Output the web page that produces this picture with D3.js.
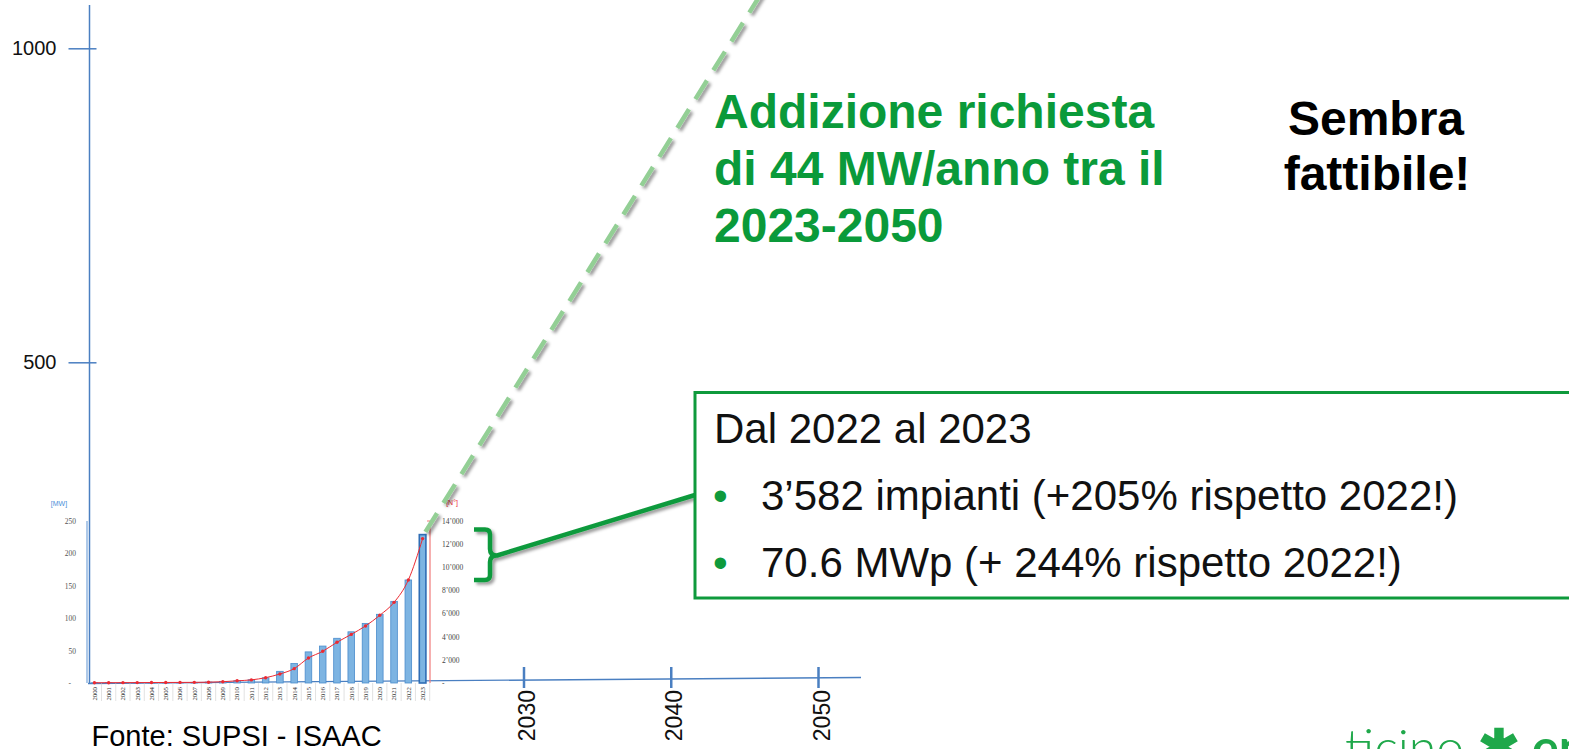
<!DOCTYPE html>
<html>
<head>
<meta charset="utf-8">
<script src="https://cdn.jsdelivr.net/npm/d3@7"></script>
<style>
  html, body { margin: 0; padding: 0; background: #fff; }
  svg { display: block; font-family: "Liberation Sans", Arial, sans-serif; }
</style>
</head>
<body>
<svg width="1569" height="749"></svg>
<script>
// inner chart (SUPSI - ISAAC): installed PV power and number of plants per year
const years = [2000, 2001, 2002, 2003, 2004, 2005, 2006, 2007, 2008, 2009, 2010, 2011,
               2012, 2013, 2014, 2015, 2016, 2017, 2018, 2019, 2020, 2021, 2022, 2023];
const capacityMW = [0.3, 0.4, 0.5, 0.5, 0.6, 0.7, 0.8, 1.0, 1.5, 2.5, 3.5, 5,
                    8, 18, 30, 48, 57, 69, 79, 92, 106, 126, 159, 229];
const installations = [20, 25, 30, 35, 40, 45, 50, 55, 70, 110, 190, 270,
                       460, 780, 1240, 2160, 2740, 3520, 4200, 4930, 5850, 6970, 8900, 12480];
const mwTicks = [0, 50, 100, 150, 200, 250];
const nTicks = [0, 2000, 4000, 6000, 8000, 10000, 12000, 14000];

// outer chart: projection to 2050
const outerYTicks = [500, 1000];
const outerXTicks = [2030, 2040, 2050];
const projYears = [2023, 2050];
const projMW = [230, 1245];

const svg = d3.select("svg"),
      width = +svg.attr("width"),
      height = +svg.attr("height");

const axisBlue = "#4a7fc1",
      green = "#0e9a3c",
      red = "#ec2a32";

const xOuter = d3.scaleLinear().domain([2030, 2050]).range([523.5, 818]);
const yOuter = d3.scaleLinear().domain([0, 1000]).range([676.3, 48.3]);

const xInner = d3.scalePoint().domain(years).range([94.4, 422.6]);
const yMW = d3.scaleLinear().domain([0, 250]).range([683, 521]);
const yN = d3.scaleLinear().domain([0, 14000]).range([683, 521]);

// shadow used by the dashed projection and the callout
const defs = svg.append("defs");
defs.append("filter")
    .attr("id", "shadow")
    .attr("x", "-20%").attr("y", "-20%").attr("width", "140%").attr("height", "140%")
  .append("feDropShadow")
    .attr("dx", 2.5).attr("dy", 2.5)
    .attr("stdDeviation", 1.8)
    .attr("flood-color", "#000")
    .attr("flood-opacity", 0.4);

//----- outer axes -----
svg.append("line")
    .attr("x1", 89.5).attr("x2", 89.5)
    .attr("y1", 5).attr("y2", 684)
    .attr("stroke", axisBlue).attr("stroke-width", 1.5);

const gy = svg.append("g")
    .attr("transform", "translate(89.5,0)")
    .call(d3.axisLeft(yOuter).tickValues(outerYTicks).tickSize(0).tickPadding(33)
        .tickFormat(d3.format("d")));
gy.select(".domain").remove();
gy.selectAll(".tick line")
    .attr("x1", -21).attr("x2", 7)
    .attr("stroke", axisBlue).attr("stroke-width", 1.5);
gy.selectAll(".tick text")
    .attr("font-size", 20).attr("fill", "#111")
    .attr("font-family", "Liberation Sans, Arial, sans-serif");

svg.append("line")
    .attr("x1", 88).attr("y1", 683.5)
    .attr("x2", 861).attr("y2", 677.5)
    .attr("stroke", axisBlue).attr("stroke-width", 1.3);

const gx = svg.append("g")
    .attr("transform", "translate(0,678)")
    .call(d3.axisBottom(xOuter).tickValues(outerXTicks).tickSize(0).tickFormat(d3.format("d")));
gx.select(".domain").remove();
gx.selectAll(".tick line")
    .attr("y1", -11).attr("y2", 10)
    .attr("stroke", axisBlue).attr("stroke-width", 2.5);
gx.selectAll(".tick text")
    .attr("transform", "rotate(-90)")
    .attr("text-anchor", "end")
    .attr("x", -12).attr("y", 11).attr("dy", 0)
    .attr("font-size", 23).attr("fill", "#111")
    .attr("font-family", "Liberation Sans, Arial, sans-serif");

//----- inner chart -----
const inner = svg.append("g").attr("class", "inner");

inner.append("line")
    .attr("x1", 87).attr("x2", 87)
    .attr("y1", yMW(250)).attr("y2", yMW(0))
    .attr("stroke", "#5d93d3").attr("stroke-width", 1);

const gmw = inner.append("g")
    .attr("transform", "translate(76,0)")
    .call(d3.axisLeft(yMW).tickValues(mwTicks).tickSize(0).tickPadding(0)
        .tickFormat(d => d === 0 ? "-" : d));
gmw.select(".domain").remove();
gmw.selectAll(".tick text")
    .attr("font-size", 7.5).attr("fill", "#555")
    .attr("font-family", "Liberation Serif, serif");
gmw.selectAll(".tick").filter(d => d === 0).select("text").attr("dx", -5);

inner.append("text")
    .attr("x", 59).attr("y", 506)
    .attr("text-anchor", "middle")
    .attr("font-size", 7).attr("fill", "#4a90d9")
    .text("[MW]");

// year separators and labels
inner.selectAll(".sep")
    .data(years)
    .enter().append("line")
    .attr("class", "sep")
    .attr("x1", d => xInner(d) + 7.1).attr("x2", d => xInner(d) + 7.1)
    .attr("y1", 683).attr("y2", 701)
    .attr("stroke", "#cfcfcf").attr("stroke-width", 0.6);

inner.selectAll(".yr")
    .data(years)
    .enter().append("text")
    .attr("class", "yr")
    .attr("transform", d => `translate(${xInner(d) + 2.4},687) rotate(-90)`)
    .attr("text-anchor", "end")
    .attr("font-size", 6.8).attr("fill", "#333")
    .attr("font-family", "Liberation Serif, serif")
    .text(d => d);

// bars
inner.selectAll(".bar")
    .data(years)
    .enter().append("rect")
    .attr("class", "bar")
    .attr("x", d => xInner(d) - 3.3)
    .attr("width", 6.6)
    .attr("y", (d, i) => yMW(capacityMW[i]))
    .attr("height", (d, i) => yMW(0) - yMW(capacityMW[i]))
    .attr("fill", "#7db4e2")
    .attr("stroke", (d, i) => i === years.length - 1 ? "#2f6db5" : "#4a8ccc")
    .attr("stroke-width", (d, i) => i === years.length - 1 ? 1.6 : 0.8);

// right axis (number of plants)
inner.append("line")
    .attr("x1", 430).attr("x2", 430)
    .attr("y1", yN(14000)).attr("y2", yN(0))
    .attr("stroke", "#f07a7a").attr("stroke-width", 1.2);
inner.append("line")
    .attr("x1", 427).attr("x2", 430)
    .attr("y1", yN(14000)).attr("y2", yN(14000))
    .attr("stroke", "#f07a7a").attr("stroke-width", 1);

const gn = inner.append("g")
    .attr("transform", "translate(442,0)")
    .call(d3.axisRight(yN).tickValues(nTicks).tickSize(0).tickPadding(0)
        .tickFormat(d => d === 0 ? "-" : d3.format(",")(d).replace(",", "’")));
gn.select(".domain").remove();
gn.selectAll(".tick text")
    .attr("font-size", 7.5).attr("fill", "#444")
    .attr("font-family", "Liberation Serif, serif");

inner.append("text")
    .attr("x", 452).attr("y", 504.5)
    .attr("text-anchor", "middle")
    .attr("font-size", 7).attr("fill", red)
    .text("[N°]");

// plants line
const nLine = d3.line()
    .x((d, i) => xInner(years[i]))
    .y(d => yN(d))
    .curve(d3.curveMonotoneX);

inner.append("path")
    .datum(installations)
    .attr("d", nLine)
    .attr("fill", "none")
    .attr("stroke", red).attr("stroke-width", 1);

inner.selectAll(".dot")
    .data(installations)
    .enter().append("circle")
    .attr("class", "dot")
    .attr("cx", (d, i) => xInner(years[i]))
    .attr("cy", d => yN(d))
    .attr("r", 1.7)
    .attr("fill", red);

//----- projection to 2050 -----
svg.append("path")
    .datum(projYears.map((y, i) => [y, projMW[i]]))
    .attr("d", d3.line().x(d => xOuter(d[0]) + 5).y(d => yOuter(d[1])))
    .attr("fill", "none")
    .attr("stroke", "#93cf95")
    .attr("stroke-width", 4.5)
    .attr("stroke-dasharray", "22 12")
    .attr("filter", "url(#shadow)");

//----- callout -----
svg.append("path")
    .attr("d", "M474,529.5 L485,529.5 Q490,529.5 490,534.5 L490,549 Q490,555.5 497,555.5 Q490,555.5 490,562 L490,575 Q490,580 485,580 L474,580 M497,555.5 L695,495")
    .attr("fill", "none")
    .attr("stroke", green).attr("stroke-width", 4.5)
    .attr("stroke-linejoin", "round")
    .attr("filter", "url(#shadow)");

svg.append("rect")
    .attr("x", 695).attr("y", 392.5)
    .attr("width", 900).attr("height", 205.5)
    .attr("fill", "#fff")
    .attr("stroke", green).attr("stroke-width", 3);

const box = svg.append("g").attr("font-size", 42).attr("fill", "#111");
box.append("text").attr("x", 714).attr("y", 443).text("Dal 2022 al 2023");
box.append("text").attr("x", 713).attr("y", 510).attr("fill", green).text("•");
box.append("text").attr("x", 713).attr("y", 577).attr("fill", green).text("•");
box.append("text").attr("x", 761).attr("y", 509.5).text("3’582 impianti (+205% rispetto 2022!)");
box.append("text").attr("x", 761).attr("y", 577).text("70.6 MWp (+ 244% rispetto 2022!)");

//----- headings -----
const head = svg.append("g")
    .attr("font-size", 48).attr("font-weight", "bold").attr("fill", "#0a9a3a");
["Addizione richiesta", "di 44 MW/anno tra il", "2023-2050"].forEach((t, i) => {
  head.append("text").attr("x", 714).attr("y", 128 + i * 57).text(t);
});

const note = svg.append("g")
    .attr("font-size", 48).attr("font-weight", "bold").attr("fill", "#000")
    .attr("text-anchor", "middle");
note.append("text").attr("x", 1376).attr("y", 135).text("Sembra");
note.append("text").attr("x", 1377).attr("y", 190).text("fattibile!");

svg.append("text")
    .attr("x", 91.5).attr("y", 746)
    .attr("font-size", 29).attr("fill", "#000")
    .text("Fonte: SUPSI - ISAAC");

// logo, cut by the bottom edge
const logo = svg.append("text")
    .attr("x", 1345).attr("y", 765)
    .attr("font-family", "Lato, sans-serif")
    .attr("font-size", 50).attr("fill", "#1fa84a");
logo.append("tspan").attr("font-weight", 300).text("ticino ");
logo.append("tspan").attr("font-weight", 700).text("✱ en");
</script>
</body>
</html>
